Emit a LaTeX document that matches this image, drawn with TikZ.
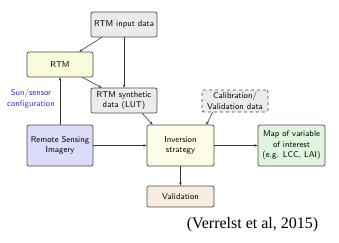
\documentclass[tikz,border=0pt]{standalone}
\usepackage{fontspec}
\newfontfamily\citefont{Liberation Serif}
\usetikzlibrary{arrows.meta}
\definecolor{bordc}{HTML}{4A4A4A}
\definecolor{arrc}{HTML}{383838}
\definecolor{grayf}{HTML}{EBEBEB}
\definecolor{yelf}{HTML}{FAFADC}
\definecolor{invf}{HTML}{FDFDE6}
\definecolor{lavf}{HTML}{DCDCFA}
\definecolor{grnf}{HTML}{E0F5E0}
\definecolor{begf}{HTML}{F6EDE0}
\definecolor{sunc}{HTML}{3A2BE0}
\tikzset{
  box/.style={draw=bordc, line width=0.7pt, rounded corners=2pt, align=center,
    inner sep=1pt, font=\sffamily\fontsize{8.5}{10.5}\selectfont, text=black},
  conn/.style={draw=arrc, line width=0.6pt, -{Stealth[length=3.2pt,width=2.6pt]}},
}
\begin{document}
\begin{tikzpicture}[x=1pt,y=-1pt]
\useasboundingbox (0,0) rectangle (339,242);
\node[box, fill=grayf, minimum width=66pt, minimum height=25pt] (inp) at (124,24.5) {RTM input data};
\node[box, fill=yelf, minimum width=66pt, minimum height=25pt] (rtm) at (60,64.5) {RTM};
\node[box, fill=grayf, minimum width=66pt, minimum height=25pt] (lut) at (124,100.5) {RTM synthetic\\data (LUT)};
\node[box, fill=lavf, minimum width=66pt, minimum height=41pt] (rs) at (60,145.5) {Remote Sensing\\Imagery};
\node[box, fill=invf, minimum width=67pt, minimum height=41pt] (inv) at (180.5,145.5) {Inversion\\strategy};
\node[box, fill=begf, minimum width=67pt, minimum height=21pt] (val) at (180.5,196.5) {Validation};
\node[box, fill=grnf, minimum width=67pt, minimum height=41pt] (map) at (291.5,145.5) {Map of variable\\of interest\\(e.g. LCC, LAI)};
\node[box, fill=grayf, dashed, minimum width=66pt, minimum height=22pt] (cal) at (235,101) {Calibration/\\Validation data};
\node[align=center, font=\sffamily\fontsize{8.5}{10.5}\selectfont, text=sunc, inner sep=0pt] (sun) at (31,98.5) {Sun/sensor\\configuration};
\node[font=\citefont\fontsize{16}{18}\selectfont, inner sep=0pt, anchor=base] (cite) at (252.5,228) {(Verrelst et al, 2015)};

\draw[conn] ([xshift=11pt]inp.south west) -- ([xshift=-14pt]rtm.north east);
\draw[conn] (inp.south) -- (lut.north);
\draw[conn] ([xshift=-11pt]rtm.south east) -- ([xshift=11pt]lut.north west);
\draw[conn] (rs.north) -- (rtm.south);
\draw[conn] (rs.east) -- (inv.west);
\draw[conn] ([xshift=-15pt]lut.south east) -- ([xshift=6pt]inv.north west);
\draw[conn] ([xshift=11pt]cal.south west) -- ([xshift=-8pt]inv.north east);
\draw[conn] (inv.east) -- (map.west);
\draw[conn] (inv.south) -- (val.north);
\end{tikzpicture}
\end{document}
